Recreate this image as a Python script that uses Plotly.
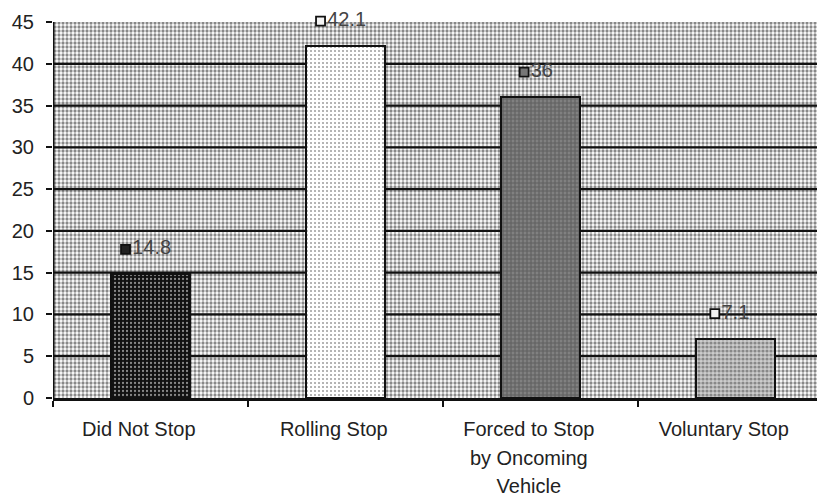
import plotly.graph_objects as go

categories = ["Did Not Stop", "Rolling Stop", "Forced to Stop<br>by Oncoming<br>Vehicle", "Voluntary Stop"]
values = [14.8, 42.1, 36, 7.1]
value_labels = ["14.8", "42.1", "36", "7.1"]
y_ticks = [0, 5, 10, 15, 20, 25, 30, 35, 40, 45]

bar_bg = ["#111111", "#ffffff", "#8a8a8a", "#cccccc"]
bar_fg = ["#777777", "#555555", "#111111", "#222222"]
bar_solid = [0.25, 0.22, 0.72, 0.5]
marker_fill = ["#222222", "#f4f4f4", "#777777", "#f4f4f4"]

FONT = "Liberation Sans, Arial, sans-serif"
idx = list(range(len(categories)))
x_lo, x_hi = -0.5, len(categories) - 0.5
y_lo, y_top = y_ticks[0], y_ticks[-1]
y_hi = y_top + 0.6  # a little headroom so the top value label stays visible
label_shift = -0.06  # category labels sit slightly left of the bars in the original

fig = go.Figure()

# stippled plot background (up to the 45 line)
fig.add_trace(go.Bar(
    x=[(x_lo + x_hi) / 2], y=[y_top], width=[x_hi - x_lo],
    marker=dict(color="#ffffff", line=dict(width=0),
                pattern=dict(shape=".", bgcolor="#ffffff", fgcolor="#111111", size=4, solidity=0.52)),
    hoverinfo="skip", showlegend=False, xaxis="x", yaxis="y",
))

# horizontal gridlines + vertical axis line
gx, gy = [], []
for t in y_ticks[1:-1]:
    gx += [x_lo, x_hi, None]
    gy += [t, t, None]
fig.add_trace(go.Scatter(x=gx, y=gy, mode="lines", line=dict(color="#111111", width=2.2),
                         hoverinfo="skip", showlegend=False, xaxis="x", yaxis="y"))
fig.add_trace(go.Scatter(x=[x_lo, x_lo], y=[y_lo, y_top], mode="lines",
                         line=dict(color="#111111", width=3),
                         hoverinfo="skip", showlegend=False, xaxis="x", yaxis="y"))

# data bars
fig.add_trace(go.Bar(
    x=idx, y=values, width=0.41,
    marker=dict(color=bar_bg, line=dict(color="#111111", width=2),
                pattern=dict(shape=".", bgcolor=bar_bg, fgcolor=bar_fg, size=4, solidity=bar_solid)),
    showlegend=False, xaxis="x2", yaxis="y",
))

# value labels with square markers
lab_x = [i - (0.04 + 0.022 * len(s)) for i, s in zip(idx, value_labels)]
lab_y = [v + 3 for v in values]
fig.add_trace(go.Scatter(
    x=lab_x, y=lab_y, mode="markers+text", text=value_labels,
    textposition="middle right",
    textfont=dict(family=FONT, size=20, color="#444444"),
    marker=dict(symbol="square", size=9, color=marker_fill, line=dict(color="#111111", width=1.8)),
    cliponaxis=False, showlegend=False, xaxis="x2", yaxis="y",
))

tick_text = ["<br>".join(f"<span style='font-size:20px'>{ln}</span>" for ln in c.split("<br>"))
             for c in categories]

fig.update_layout(
    width=825, height=498,
    margin=dict(l=45, r=0, t=9, b=108),
    paper_bgcolor="white", plot_bgcolor="white",
    font=dict(family=FONT, size=20, color="#222222"),
    bargap=0, barmode="overlay",
    xaxis=dict(range=[x_lo, x_hi], tickmode="array", tickvals=[i + label_shift for i in idx],
               ticktext=tick_text,
               tickfont=dict(size=22), ticks="", showgrid=False, zeroline=False, showline=True,
               linecolor="#111111", linewidth=2.5, ticklabelstandoff=9,
               minor=dict(tickmode="array", tickvals=[i - 0.5 for i in idx], ticks="outside",
                          ticklen=6, tickwidth=2, tickcolor="#111111", showgrid=False)),
    xaxis2=dict(range=[x_lo, x_hi], overlaying="x", visible=False),
    yaxis=dict(range=[y_lo, y_hi], tickmode="array", tickvals=y_ticks, ticks="outside",
               ticklen=6, tickwidth=2, tickcolor="#111111", showgrid=False, zeroline=False,
               showline=False, ticklabelstandoff=8),
)

fig.write_html("out.html")
